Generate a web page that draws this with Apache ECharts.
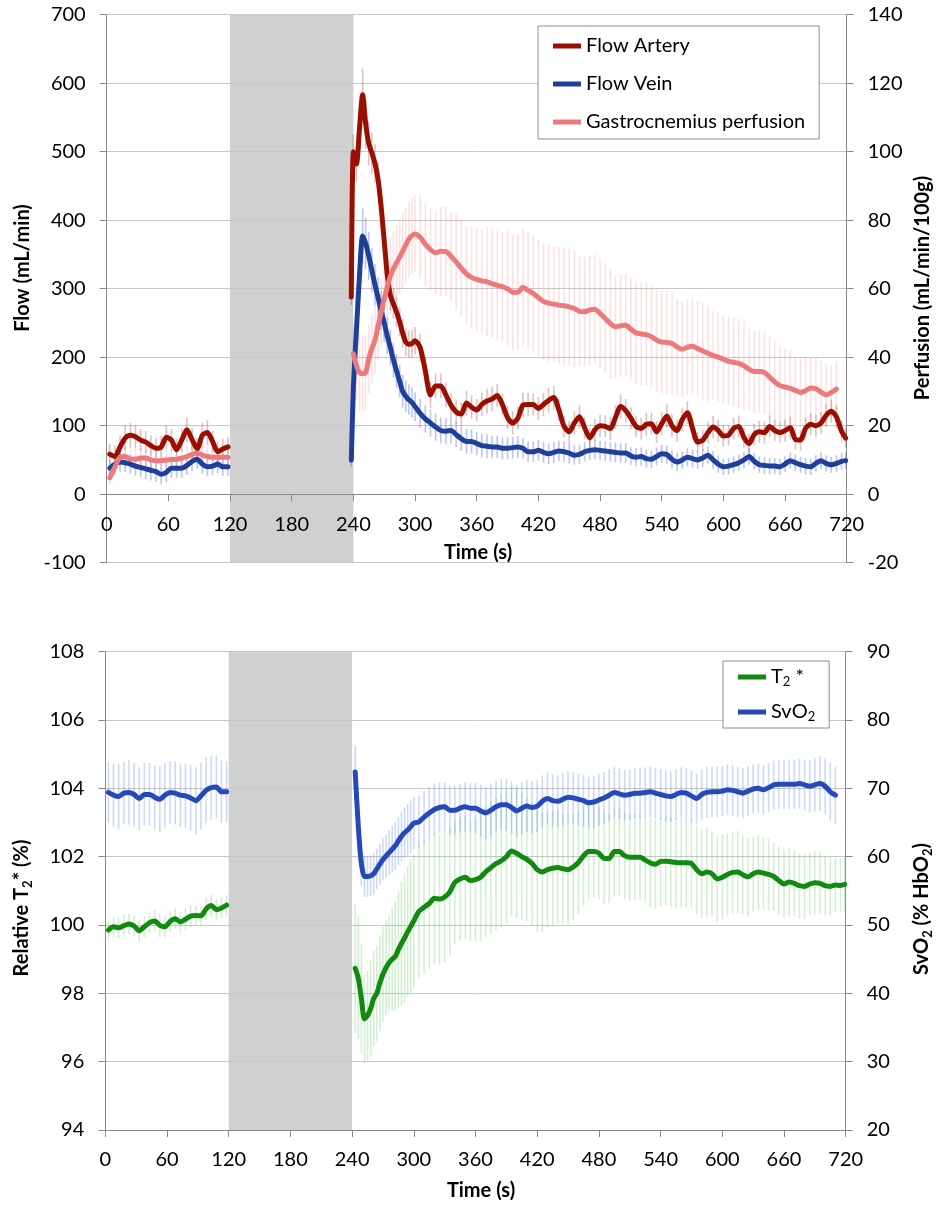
<!DOCTYPE html>
<html>
<head>
<meta charset="utf-8">
<script src="https://cdn.jsdelivr.net/npm/echarts@6/dist/echarts.min.js"></script>
<style>
  html, body { margin: 0; padding: 0; background: #fff; }
  #chart { width: 940px; height: 1206px; }
</style>
</head>
<body>
<div id="chart"></div>
<script>
// ---- time points (s) ----
const tBase = [3, 8, 13, 18, 23, 28, 33, 38, 43, 48, 53, 58, 63, 68, 73, 78, 83, 88, 93, 98, 103, 108, 113, 118];
const tPost = [
  238, 240, 243, 246, 249, 252, 255, 258, 261, 264,
  267, 270, 273, 276, 279, 282, 285, 288, 291, 294,
  297, 300, 305, 310, 315, 320, 325, 330, 335, 340,
  345, 350, 355, 360, 365, 370, 375, 380, 385, 390,
  395, 400, 405, 410, 415, 420, 425, 430, 435, 440,
  445, 450, 455, 460, 465, 470, 475, 480, 485, 490,
  495, 500, 505, 510, 515, 520, 525, 530, 535, 540,
  545, 550, 555, 560, 565, 570, 575, 580, 585, 590,
  595, 600, 605, 610, 615, 620, 625, 630, 635, 640,
  645, 650, 655, 660, 665, 670, 675, 680, 685, 690,
  695, 700, 705, 710, 715, 719
];

// ---- flow (mL/min) ----
const arteryBase = [58.5, 55, 69, 82, 86, 84, 79, 76, 71, 67, 69, 83, 79, 65, 79, 94, 80, 66, 86, 90, 77, 62, 66, 69];
const arteryBaseErr = [15, 16, 17, 18, 18, 17, 16, 16, 15, 15, 16, 17, 16, 16, 17, 18, 17, 16, 18, 18, 16, 15, 15, 14];
const arteryPost = [
  288, 500, 482, 535, 583, 540, 512, 498, 483, 460,
  420, 370, 320, 290, 278, 266, 252, 235, 222, 219,
  220, 224, 214, 180, 145, 158, 158, 145, 130, 120,
  117, 133, 127, 123, 131, 136, 139, 144, 131, 112,
  104, 111, 130, 131, 131, 125, 131, 137, 141, 123,
  99, 91, 104, 113, 97, 82, 94, 100, 99, 96,
  112, 128, 122, 111, 99, 96, 102, 103, 91, 103,
  114, 100, 93, 109, 119, 96, 76, 79, 90, 98,
  93, 85, 86, 96, 99, 83, 74, 87, 91, 90,
  99, 93, 90, 93, 97, 80, 79, 96, 102, 100,
  104, 115, 121, 113, 92, 82
];
const arteryPostErr = [
  12, 25, 25, 32, 38, 36, 32, 30, 28, 26,
  25, 25, 24, 22, 22, 22, 21, 21, 20, 20,
  20, 20, 20, 19, 19, 18, 18, 18, 18, 17,
  17, 18, 17, 16, 17, 18, 18, 17, 16, 17,
  17, 17, 18, 17, 16, 17, 17, 18, 17, 16,
  16, 16, 17, 17, 16, 15, 16, 16, 16, 17,
  17, 18, 17, 16, 16, 16, 17, 16, 16, 17,
  17, 16, 16, 17, 17, 16, 15, 15, 16, 16,
  16, 16, 15, 16, 16, 15, 15, 16, 16, 16,
  16, 15, 15, 16, 16, 15, 15, 16, 16, 16,
  16, 17, 17, 17, 16, 15
];
const veinBase = [38, 44, 47, 46, 44, 41, 39, 37, 35, 33, 29, 32, 38, 38, 38, 42, 48, 51, 44, 40, 41, 44, 40, 40];
const veinBaseErr = [12, 13, 14, 14, 14, 14, 14, 15, 15, 15, 15, 15, 14, 14, 14, 14, 14, 14, 14, 14, 13, 13, 13, 13];
const veinPost = [
  50, 155, 240, 320, 377, 366, 348, 327, 306, 287,
  268, 250, 231, 214, 196, 180, 165, 150, 143, 138,
  134, 128, 118, 110, 104, 98, 93, 92, 93, 87,
  81, 77, 77, 74, 71, 70, 69, 69, 67, 67,
  68, 69, 67, 62, 62, 64, 61, 59, 61, 63,
  62, 60, 57, 58, 62, 64, 65, 64, 63, 62,
  61, 60, 60, 56, 54, 55, 52, 51, 55, 59,
  58, 51, 47, 50, 54, 52, 50, 53, 57, 50,
  44, 40, 41, 43, 46, 50, 55, 48, 43, 42,
  41, 41, 40, 44, 49, 46, 43, 41, 40, 45,
  49, 45, 43, 45, 48, 49
];
const veinPostErr = [
  10, 25, 30, 35, 40, 38, 35, 32, 30, 30,
  28, 28, 27, 26, 25, 25, 24, 24, 23, 22,
  22, 21, 21, 20, 20, 20, 19, 19, 19, 18,
  18, 18, 17, 17, 17, 17, 16, 16, 16, 16,
  16, 16, 15, 15, 15, 15, 15, 15, 15, 15,
  15, 15, 14, 14, 14, 14, 14, 14, 14, 14,
  14, 14, 14, 13, 13, 13, 13, 13, 13, 13,
  13, 13, 13, 13, 13, 13, 13, 13, 13, 13,
  13, 12, 12, 12, 12, 12, 12, 12, 12, 12,
  12, 12, 12, 12, 12, 12, 12, 12, 12, 12,
  12, 12, 12, 12, 12, 12
];

// ---- perfusion (mL/min/100g) ----
const perfBase = [4.8, 8.0, 10.8, 11.0, 10.3, 10.2, 10.6, 10.6, 10.0, 9.8, 9.8, 10.0, 10.1, 10.2, 10.5, 11.0, 11.6, 12.0, 11.4, 11.0, 10.8, 10.8, 10.8, 10.8];
const perfBaseErr = [2, 2.5, 3, 3, 3, 3, 3, 3, 3, 3, 3, 3, 3, 3, 3, 3, 3, 3, 3, 3, 3, 3, 3, 3];
const perfPost = [
  null, 41, 37.5, 35.5, 35.2, 35.5, 39.5, 42.5, 45, 49,
  53, 57, 60.5, 63.7, 65.8, 67.5, 69.2, 71, 72.8, 74.5,
  75.5, 76, 75, 73, 71.4, 70.5, 70.9, 70.8, 69.5, 67.8,
  66, 64.3, 63.3, 62.7, 62.3, 62, 61.5, 61, 60.6, 60,
  59, 59, 60.4, 59.5, 58.6, 57.4, 56.3, 55.8, 55.5, 55.2,
  55, 54.7, 54.2, 53.4, 53.3, 53.8, 54, 52.8, 51.3, 49.8,
  48.9, 49.2, 49.3, 48.2, 47.1, 46.8, 46.6, 46, 45, 44.4,
  44.3, 44, 43, 42.3, 42.9, 43.2, 42.5, 41.8, 41.2, 40.5,
  40, 39.4, 38.8, 38.5, 38.2, 37.5, 36.5, 35.8, 35.8, 35.5,
  34.2, 32.8, 31.7, 31.3, 30.9, 30.3, 29.7, 30.2, 31, 30.8,
  29.8, 29, 29.7, 30.7, null, null
];
const perfPostErr = [
  0, 8, 10, 11, 11, 11, 10, 10, 10, 10,
  10, 11, 11, 11, 11, 11, 11, 11, 11, 11,
  11, 11, 12, 12, 12, 12, 13, 13, 13, 14,
  14, 14, 15, 15, 15, 16, 16, 16, 16, 17,
  17, 17, 17, 17, 17, 17, 17, 17, 17, 17,
  17, 17, 17, 16, 16, 16, 16, 16, 16, 16,
  15, 15, 15, 15, 15, 15, 15, 15, 15, 15,
  15, 15, 14, 14, 14, 14, 14, 14, 14, 13,
  13, 13, 13, 13, 13, 13, 12, 12, 12, 12,
  12, 12, 11, 11, 11, 10, 10, 10, 9, 9,
  9, 9, 8, 8, 0, 0
];

// ---- relative T2* (%) ----
const t2Base = [99.85, 99.95, 99.92, 99.98, 100.03, 99.97, 99.83, 99.95, 100.07, 100.12, 99.99, 99.95, 100.1, 100.18, 100.09, 100.17, 100.26, 100.28, 100.27, 100.47, 100.57, 100.45, 100.5, 100.58];
const t2BaseErr = [0.28, 0.3, 0.3, 0.32, 0.3, 0.3, 0.32, 0.3, 0.3, 0.32, 0.34, 0.32, 0.3, 0.3, 0.3, 0.32, 0.32, 0.3, 0.3, 0.32, 0.32, 0.3, 0.3, 0.3];
const t2Post = [
  null, null, 98.73, 98.45, 97.85, 97.25, 97.35, 97.55, 97.85, 98.0,
  98.3, 98.56, 98.75, 98.9, 99.0, 99.08, 99.28, 99.46, 99.62, 99.8,
  99.96, 100.12, 100.4, 100.52, 100.63, 100.78, 100.76, 100.82, 100.97, 101.25,
  101.35, 101.4, 101.3, 101.33, 101.4, 101.56, 101.68, 101.8, 101.88, 102.0,
  102.17, 102.1, 102.0, 101.92, 101.8, 101.62, 101.55, 101.62, 101.66, 101.68,
  101.65, 101.62, 101.7, 101.83, 102.02, 102.15, 102.15, 102.1, 101.95, 101.95,
  102.15, 102.15, 102.03, 101.98, 101.98, 101.98, 101.9, 101.82, 101.78, 101.86,
  101.87, 101.85, 101.83, 101.82, 101.82, 101.8, 101.62, 101.5, 101.55, 101.5,
  101.35, 101.4, 101.48, 101.54, 101.55, 101.47, 101.41, 101.5, 101.55, 101.52,
  101.48, 101.42, 101.3, 101.2, 101.26, 101.22, 101.15, 101.13, 101.2, 101.24,
  101.22, 101.15, 101.13, 101.17, 101.16, 101.19
];
const t2PostErr = [
  0, 0, 1.9, 1.8, 1.6, 1.3, 1.3, 1.4, 1.4, 1.4,
  1.4, 1.4, 1.4, 1.4, 1.5, 1.6, 1.7, 1.8, 1.9, 1.9,
  1.95, 1.95, 1.95, 1.95, 1.9, 1.9, 1.9, 1.9, 1.85, 1.8,
  1.8, 1.8, 1.75, 1.8, 1.85, 1.9, 1.95, 1.95, 1.95, 1.95,
  1.9, 1.9, 1.85, 1.8, 1.8, 1.8, 1.75, 1.7, 1.7, 1.65,
  1.6, 1.6, 1.55, 1.5, 1.45, 1.4, 1.35, 1.35, 1.35, 1.3,
  1.3, 1.3, 1.25, 1.25, 1.25, 1.25, 1.25, 1.3, 1.3, 1.3,
  1.3, 1.3, 1.3, 1.3, 1.3, 1.3, 1.3, 1.3, 1.3, 1.25,
  1.25, 1.25, 1.2, 1.2, 1.2, 1.15, 1.15, 1.1, 1.1, 1.05,
  1.05, 1.0, 1.0, 1.0, 1.0, 0.95, 0.95, 0.95, 0.9, 0.9,
  0.9, 0.85, 0.85, 0.8, 0.8, 0.8
];

// ---- SvO2 (% HbO2) ----
const svo2Base = [69.4, 69.0, 68.8, 69.3, 69.4, 69.1, 68.5, 69.1, 69.1, 68.7, 68.4, 69.0, 69.4, 69.3, 69.0, 68.9, 68.6, 68.2, 68.9, 69.7, 70.1, 70.2, 69.5, 69.5];
const svo2BaseErr = [4.5, 4.6, 4.7, 4.6, 4.7, 4.7, 4.6, 4.6, 4.6, 4.7, 4.8, 4.7, 4.6, 4.6, 4.6, 4.7, 4.8, 4.9, 4.9, 4.8, 4.7, 4.6, 4.6, 4.5];
const svo2Post = [
  null, null, 72.4, 64.5, 59, 57.1, 57.1, 57.2, 57.5, 58.2,
  58.9, 59.6, 60.1, 60.6, 61.1, 61.6, 62.3, 63, 63.5, 63.9,
  64.4, 64.9, 65.1, 65.8, 66.4, 66.9, 67.2, 67.3, 66.8, 66.8,
  67.1, 67.3, 67.1, 67.1, 66.7, 66.4, 66.8, 67.3, 67.6, 67.6,
  67.2, 66.7, 67.1, 67.4, 67.2, 67.4, 68.1, 68.5, 68.2, 68.1,
  68.4, 68.7, 68.6, 68.4, 68.2, 67.9, 68, 68.3, 68.6, 69,
  69.4, 69.2, 69, 69.1, 69.3, 69.3, 69.4, 69.5, 69.3, 69.1,
  68.9, 68.8, 69.1, 69.4, 69.3, 68.9, 68.5, 69.1, 69.4, 69.5,
  69.5, 69.6, 69.8, 69.7, 69.5, 69.3, 69.6, 69.9, 70, 69.8,
  70.1, 70.5, 70.6, 70.6, 70.6, 70.6, 70.7, 70.5, 70.3, 70.5,
  70.7, 70.3, 69.5, 69, null, null
];
const svo2PostErr = [
  0, 0, 3.9, 3.5, 3.2, 3.0, 3.0, 3.0, 3.0, 3.0,
  3.0, 3.1, 3.2, 3.3, 3.4, 3.5, 3.5, 3.6, 3.7, 3.8,
  3.8, 3.8, 3.8, 3.8, 3.8, 3.8, 3.7, 3.6, 3.6, 3.6,
  3.6, 3.6, 3.6, 3.7, 3.8, 3.8, 3.8, 3.8, 3.8, 3.8,
  3.8, 3.8, 3.8, 3.8, 3.8, 3.8, 3.8, 3.8, 3.8, 3.8,
  3.8, 3.8, 3.8, 3.8, 3.8, 3.8, 3.8, 3.8, 3.8, 3.8,
  3.7, 3.7, 3.7, 3.7, 3.7, 3.7, 3.7, 3.7, 3.7, 3.7,
  3.7, 3.7, 3.7, 3.7, 3.7, 3.7, 3.7, 3.7, 3.7, 3.7,
  3.7, 3.7, 3.7, 3.7, 3.7, 3.7, 3.6, 3.6, 3.6, 3.6,
  3.6, 3.6, 3.6, 3.6, 3.6, 3.6, 3.6, 3.7, 3.8, 3.9,
  4.0, 4.1, 4.2, 4.2, 0, 0
];

// ---- styling ----
const FONT = 'Lato, "Liberation Sans", Arial, sans-serif';
const AXIS_GRAY = '#8a8a8a';
const GRID_GRAY = '#c8c8c8';
const COLORS = {
  artery: '#990f02', vein: '#1f3f99', perf: '#ec7a7c',
  t2: '#128a12', svo2: '#2549b8'
};
const TOP_PLOT_HEIGHT = 548;     // px, spans -100 .. 700 mL/min
const BOTTOM_PLOT_HEIGHT = 478.3;
const AXIS_Z = 1.5;              // above the shaded occlusion band, below the data

// [t, value] pairs; the baseline and recovery segments are separated by a gap
function pairs(ts, vs) {
  return ts.map((t, i) => [t, vs[i] == null ? '-' : vs[i]]);
}
function lineData(baseV, postV) {
  return pairs(tBase, baseV).concat([[180, '-']], pairs(tPost, postV));
}
// [t, mean, sd] triples for the error bars
function errData(baseV, baseE, postV, postE) {
  const out = [];
  tBase.forEach((t, i) => { if (baseV[i] != null) out.push([t, baseV[i], baseE[i]]); });
  tPost.forEach((t, i) => { if (postV[i] != null) out.push([t, postV[i], postE[i]]); });
  return out;
}
function errorBar(color) {
  return function (params, api) {
    const t = api.value(0), v = api.value(1), e = api.value(2);
    if (isNaN(v) || isNaN(e) || !e) return null;
    const hi = api.coord([t, v + e]);
    const lo = api.coord([t, v - e]);
    return {
      type: 'line',
      shape: { x1: hi[0], y1: hi[1], x2: lo[0], y2: lo[1] },
      style: { stroke: color, lineWidth: 1.6 }
    };
  };
}
function errSeries(name, xi, yi, color, data, withBand) {
  const s = {
    type: 'custom', name: name, xAxisIndex: xi, yAxisIndex: yi, z: 2, silent: true,
    renderItem: errorBar(color), encode: { x: 0, y: 1 }, data: data
  };
  if (withBand) {
    // shaded occlusion period, 120-240 s
    s.markArea = {
      silent: true, z: 1, itemStyle: { color: '#d0d0d0' },
      data: [[{ xAxis: 120 }, { xAxis: 240 }]]
    };
  }
  return s;
}
function lineSeries(name, xi, yi, color, data) {
  return {
    type: 'line', name: name, xAxisIndex: xi, yAxisIndex: yi, z: 3,
    data: data, showSymbol: false, symbol: 'none', smooth: 0.25, connectNulls: false,
    color: color, itemStyle: { color: color },
    lineStyle: { color: color, width: 5, cap: 'round', join: 'round' }
  };
}
function xAxisCfg(grid, offset) {
  return {
    gridIndex: grid, type: 'value', position: 'bottom', offset: offset, z: AXIS_Z,
    min: 0, max: 720, interval: 60,
    axisLine: { show: true, onZero: false, lineStyle: { color: AXIS_GRAY, width: 1 } },
    axisTick: { show: true, length: 7, lineStyle: { color: AXIS_GRAY } },
    axisLabel: { margin: 20, color: '#000', fontFamily: FONT, fontSize: 20, lineHeight: 20 },
    splitLine: { show: false }
  };
}
function yAxisCfg(grid, pos, min, max, interval, gridLines) {
  return {
    gridIndex: grid, type: 'value', position: pos, min: min, max: max, interval: interval, z: AXIS_Z,
    axisLine: { show: true, onZero: false, lineStyle: { color: AXIS_GRAY, width: 1 } },
    axisTick: { show: true, length: 7, lineStyle: { color: AXIS_GRAY } },
    axisLabel: { margin: 21, color: '#000', fontFamily: FONT, fontSize: 20 },
    splitLine: { show: gridLines, lineStyle: { color: GRID_GRAY, width: 1 } }
  };
}
function vTitle(x, y, text, rich) {
  return {
    type: 'text', x: x, y: y, rotation: Math.PI / 2, silent: true,
    style: {
      text: text, rich: rich, fill: '#000',
      font: 'bold 20px ' + FONT,
      align: 'center', verticalAlign: 'middle',
      textAlign: 'center', textVerticalAlign: 'middle'
    }
  };
}
function hTitle(x, y, text) {
  return {
    type: 'text', x: x, y: y, silent: true,
    style: {
      text: text, fill: '#000', font: 'bold 20px ' + FONT,
      align: 'center', verticalAlign: 'middle',
      textAlign: 'center', textVerticalAlign: 'middle'
    }
  };
}
const subRich = {
  b: { fontFamily: FONT, fontWeight: 'bold', fontSize: 20, lineHeight: 24, fill: '#000', color: '#000' },
  s: { fontFamily: FONT, fontWeight: 'bold', fontSize: 13, lineHeight: 12, verticalAlign: 'bottom', fill: '#000', color: '#000' }
};

const chart = echarts.init(document.getElementById('chart'), null, { renderer: 'canvas' });

chart.setOption({
  animation: false,
  backgroundColor: '#fff',
  textStyle: { fontFamily: FONT },
  grid: [
    { left: 106.7, right: 93.3, top: 14.7, height: TOP_PLOT_HEIGHT, outerBoundsMode: 'none' },
    { left: 105.3, right: 94.3, top: 651.7, height: BOTTOM_PLOT_HEIGHT, outerBoundsMode: 'none' }
  ],
  xAxis: [
    // the flow panel's time axis sits on the zero-flow line (100 of 800 units above the bottom)
    xAxisCfg(0, -TOP_PLOT_HEIGHT * 100 / 800),
    xAxisCfg(1, 0)
  ],
  yAxis: [
    yAxisCfg(0, 'left', -100, 700, 100, true),
    yAxisCfg(0, 'right', -20, 140, 20, false),
    yAxisCfg(1, 'left', 94, 108, 2, true),
    yAxisCfg(1, 'right', 20, 90, 10, false)
  ],
  legend: [
    {
      data: ['Flow Artery', 'Flow Vein', 'Gastrocnemius perfusion'],
      orient: 'vertical', left: 538, top: 26,
      padding: [9, 14, 6, 15], itemGap: 16,
      itemWidth: 28, itemHeight: 5, icon: 'rect',
      backgroundColor: '#fff', borderColor: '#8c8c8c', borderWidth: 1,
      selectedMode: false,
      textStyle: { fontFamily: FONT, fontSize: 20, color: '#000', lineHeight: 22 }
    },
    {
      data: ['T2 *', 'SvO2'],
      orient: 'vertical', left: 723, top: 661,
      padding: [5, 14, 5, 15], itemGap: 13,
      itemWidth: 28, itemHeight: 5, icon: 'rect',
      backgroundColor: '#fff', borderColor: '#8c8c8c', borderWidth: 1,
      selectedMode: false,
      formatter: function (name) {
        return name === 'T2 *' ? '{n|T}{s|2}{n| *}' : '{n|SvO}{s|2}';
      },
      textStyle: {
        fontFamily: FONT, fontSize: 20, color: '#000', lineHeight: 22,
        rich: {
          n: { fontFamily: FONT, fontSize: 20, lineHeight: 22, color: '#000' },
          s: { fontFamily: FONT, fontSize: 13, lineHeight: 11, verticalAlign: 'bottom', color: '#000' }
        }
      }
    }
  ],
  graphic: [
    vTitle(23, 268, 'Flow (mL/min)'),
    vTitle(923, 288, 'Perfusion (mL/min/100g)'),
    hTitle(478, 553, 'Time (s)'),
    vTitle(22, 908, '{b|Relative T}{s|2}{b|* (%)}', subRich),
    vTitle(922, 909, '{b|SvO}{s|2}{b| (% HbO}{s|2}{b|)}', subRich),
    hTitle(481, 1191, 'Time (s)')
  ],
  series: [
    errSeries('artery sd', 0, 0, 'rgba(150,30,30,0.28)', errData(arteryBase, arteryBaseErr, arteryPost, arteryPostErr), true),
    errSeries('vein sd', 0, 0, 'rgba(70,100,240,0.38)', errData(veinBase, veinBaseErr, veinPost, veinPostErr), false),
    errSeries('perfusion sd', 0, 1, 'rgba(240,120,120,0.22)', errData(perfBase, perfBaseErr, perfPost, perfPostErr), false),
    lineSeries('Flow Artery', 0, 0, COLORS.artery, lineData(arteryBase, arteryPost)),
    lineSeries('Flow Vein', 0, 0, COLORS.vein, lineData(veinBase, veinPost)),
    lineSeries('Gastrocnemius perfusion', 0, 1, COLORS.perf, lineData(perfBase, perfPost)),

    errSeries('t2 sd', 1, 2, 'rgba(90,200,90,0.28)', errData(t2Base, t2BaseErr, t2Post, t2PostErr), true),
    errSeries('svo2 sd', 1, 3, 'rgba(90,130,235,0.3)', errData(svo2Base, svo2BaseErr, svo2Post, svo2PostErr), false),
    lineSeries('T2 *', 1, 2, COLORS.t2, lineData(t2Base, t2Post)),
    lineSeries('SvO2', 1, 3, COLORS.svo2, lineData(svo2Base, svo2Post))
  ]
});
</script>
</body>
</html>
